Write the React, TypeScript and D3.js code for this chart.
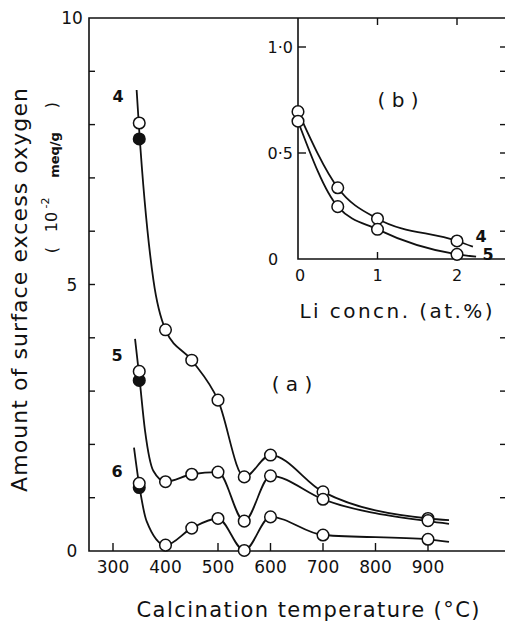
import * as d3 from 'd3';

// main panel (a): surface excess oxygen vs calcination temperature
const tempTicks = [300, 400, 500, 600, 700, 800, 900];
const yLabelTicks = [0, 5, 10];
const yMinorTicks = [1, 2, 3, 4, 5, 6, 7, 8, 9];

const markTemps = [400, 450, 500, 550, 600, 700, 900];
const open4 = [4.15, 3.58, 2.83, 1.39, 1.8, 1.11, 0.61];
const open5 = [1.3, 1.44, 1.48, 0.56, 1.41, 0.97, 0.57];
const open6 = [0.11, 0.43, 0.61, 0.01, 0.64, 0.3, 0.22];

const firstTemp = 350;
const firstOpen = [8.03, 3.37, 1.27];
const firstFilled = [7.73, 3.2, 1.19];

// curve traces (ends included)
const line4T = [345, 350, 377, 400, 450, 500, 550, 600, 700, 900, 940];
const line4V = [8.65, 7.88, 5.08, 4.15, 3.58, 2.83, 1.39, 1.8, 1.11, 0.61, 0.58];
const line5T = [342, 350, 361, 377, 400, 450, 500, 550, 600, 700, 900, 940];
const line5V = [3.98, 3.28, 2.26, 1.5, 1.3, 1.44, 1.48, 0.56, 1.41, 0.97, 0.56, 0.51];
const line6T = [340, 350, 364, 400, 450, 500, 550, 600, 700, 900, 940];
const line6V = [1.94, 1.23, 0.56, 0.11, 0.43, 0.61, 0.01, 0.64, 0.3, 0.22, 0.17];

// inset (b): vs Li concentration
const liConc = [0, 0.5, 1, 2];
const inset4 = [0.695, 0.336, 0.19, 0.085];
const inset5 = [0.65, 0.247, 0.14, 0.022];
const insetEndX = [2.2, 2.24];
const insetEndV = [0.058, 0.011];
const insetXTicks = [0, 1, 2];
const insetYTicks = [0, 0.5, 1.0];
const insetYLabels = ['0', '0·5', '1·0'];

const FONT = 'DejaVu Sans, sans-serif';

const App = () => {
  const x = d3.scaleLinear().domain([300, 900]).range([113, 428]);
  const y = d3.scaleLinear().domain([0, 10]).range([551, 18]);
  const xi = d3.scaleLinear().domain([0, 2]).range([298, 457]);
  const yi = d3.scaleLinear().domain([0, 1]).range([259, 47]);

  const left = 89, right = 507, top = 18, bottom = 551;
  const iLeft = 298, iBottom = 259;

  const line = d3.line<[number, number]>()
    .x(d => x(d[0]))
    .y(d => y(d[1]))
    .curve(d3.curveMonotoneX);
  const lineI = d3.line<[number, number]>()
    .x(d => xi(d[0]))
    .y(d => yi(d[1]))
    .curve(d3.curveMonotoneX);

  const curves = [
    line4T.map((t, i) => [t, line4V[i]] as [number, number]),
    line5T.map((t, i) => [t, line5V[i]] as [number, number]),
    line6T.map((t, i) => [t, line6V[i]] as [number, number]),
  ];
  const opens = [open4, open5, open6];

  const insetCurves = [inset4, inset5].map((vals, k) => [
    ...liConc.map((c, i) => [c, vals[i]] as [number, number]),
    [insetEndX[k], insetEndV[k]] as [number, number],
  ]);

  const stroke = '#111';

  return (
    <svg width={505} height={623} style={{ position: 'absolute', left: 0, top: 0, background: '#fff' }}
      fontFamily={FONT}>
      <rect width={505} height={623} fill="#fff" />
      {/* main frame */}
      <path d={`M${right},${top}H${left}V${bottom}H${right}`} fill="none" stroke={stroke} strokeWidth={1.6} />
      <line x1={right} x2={right} y1={top} y2={bottom} stroke={stroke} strokeWidth={1.6} />
      {yMinorTicks.map(v => (
        <g key={'yt' + v}>
          <line x1={left} x2={left + 6} y1={y(v)} y2={y(v)} stroke={stroke} strokeWidth={1.4} />
          <line x1={right} x2={right - 7} y1={y(v)} y2={y(v)} stroke={stroke} strokeWidth={1.4} />
        </g>
      ))}
      {tempTicks.map(t => (
        <line key={'xt' + t} x1={x(t)} x2={x(t)} y1={bottom} y2={bottom - 8} stroke={stroke} strokeWidth={1.4} />
      ))}
      {yLabelTicks.map(v => (
        <text key={'yl' + v} x={72} y={y(v)} dy="0.36em" textAnchor="middle" fontSize={17} fill={stroke}>{v}</text>
      ))}
      {tempTicks.map(t => (
        <text key={'xl' + t} x={x(t)} y={573} textAnchor="middle" fontSize={17} fill={stroke}>{t}</text>
      ))}
      <text x={308} y={617} textAnchor="middle" fontSize={21} textLength={343} lengthAdjust="spacing" fill={stroke}>
        Calcination temperature (°C)
      </text>
      <text transform="translate(27,290) rotate(-90)" textAnchor="middle" fontSize={22} textLength={404}
        lengthAdjust="spacing" fill={stroke}>
        Amount of surface excess oxygen
      </text>
      <text transform="translate(57,250) rotate(-90)" textAnchor="middle" fontSize={16} fill={stroke}>(</text>
      <text transform="translate(57,222) rotate(-90)" textAnchor="middle" fontSize={16} fill={stroke}>10</text>
      <text transform="translate(49,203) rotate(-90)" textAnchor="middle" fontSize={11} fill={stroke}>-2</text>
      <text transform="translate(59,155) rotate(-90)" textAnchor="middle" fontSize={13} fontWeight="bold" fill={stroke}>meq/g</text>
      <text transform="translate(57,105) rotate(-90)" textAnchor="middle" fontSize={16} fill={stroke}>)</text>

      {/* curves */}
      {curves.map((c, i) => (
        <path key={'c' + i} d={line(c) || ''} fill="none" stroke={stroke} strokeWidth={1.8} />
      ))}
      {opens.map((vals, k) =>
        markTemps.map((t, i) => (
          <circle key={`m${k}-${i}`} cx={x(t)} cy={y(vals[i])} r={5.8} fill="#fff" stroke={stroke} strokeWidth={1.5} />
        ))
      )}
      {firstFilled.map((v, k) => (
        <circle key={'f' + k} cx={x(firstTemp)} cy={y(v)} r={5.8} fill={stroke} stroke={stroke} strokeWidth={1.5} />
      ))}
      {firstOpen.map((v, k) => (
        <circle key={'o' + k} cx={x(firstTemp)} cy={y(v)} r={5.8} fill="#fff" stroke={stroke} strokeWidth={1.5} />
      ))}
      <text x={118} y={102} textAnchor="middle" fontSize={16} fontWeight="bold" fill={stroke}>4</text>
      <text x={117} y={361} textAnchor="middle" fontSize={16} fontWeight="bold" fill={stroke}>5</text>
      <text x={117} y={477} textAnchor="middle" fontSize={16} fontWeight="bold" fill={stroke}>6</text>
      <text x={292} y={391} textAnchor="middle" fontSize={20} fill={stroke}>( a )</text>

      {/* inset frame */}
      <path d={`M${iLeft},${top}V${iBottom}H${right}`} fill="none" stroke={stroke} strokeWidth={1.6} />
      {insetYTicks.slice(1).map(v => (
        <g key={'iyt' + v}>
          <line x1={iLeft} x2={iLeft + 8} y1={yi(v)} y2={yi(v)} stroke={stroke} strokeWidth={1.4} />
          <line x1={right} x2={right - 7} y1={yi(v)} y2={yi(v)} stroke={stroke} strokeWidth={1.4} />
        </g>
      ))}
      {insetXTicks.slice(1).map(c => (
        <g key={'ixt' + c}>
          <line x1={xi(c)} x2={xi(c)} y1={iBottom} y2={iBottom - 7} stroke={stroke} strokeWidth={1.4} />
          <line x1={xi(c)} x2={xi(c)} y1={top} y2={top + 7} stroke={stroke} strokeWidth={1.4} />
        </g>
      ))}
      {insetYTicks.map((v, i) => (
        <text key={'iyl' + v} x={i === 0 ? 273 : 293} y={yi(v)} dy="0.36em" textAnchor={i === 0 ? 'middle' : 'end'}
          fontSize={16} fill={stroke}>{insetYLabels[i]}</text>
      ))}
      {insetXTicks.map(c => (
        <text key={'ixl' + c} x={xi(c) + (c === 0 ? 2 : 0)} y={281} textAnchor="middle" fontSize={16} fill={stroke}>{c}</text>
      ))}
      <text x={396} y={318} textAnchor="middle" fontSize={20} textLength={193} lengthAdjust="spacing" fill={stroke}>
        Li concn. (at.%)
      </text>
      <text x={398} y={107} textAnchor="middle" fontSize={20} fill={stroke}>( b )</text>
      {insetCurves.map((c, k) => (
        <path key={'ic' + k} d={lineI(c) || ''} fill="none" stroke={stroke} strokeWidth={1.8} />
      ))}
      {[inset4, inset5].map((vals, k) =>
        liConc.map((c, i) => (
          <circle key={`im${k}-${i}`} cx={xi(c)} cy={yi(vals[i])} r={5.8} fill="#fff" stroke={stroke} strokeWidth={1.5} />
        ))
      )}
      <text x={481} y={242} textAnchor="middle" fontSize={16} fontWeight="bold" fill={stroke}>4</text>
      <text x={488} y={260} textAnchor="middle" fontSize={16} fontWeight="bold" fill={stroke}>5</text>
    </svg>
  );
};

export default App;
